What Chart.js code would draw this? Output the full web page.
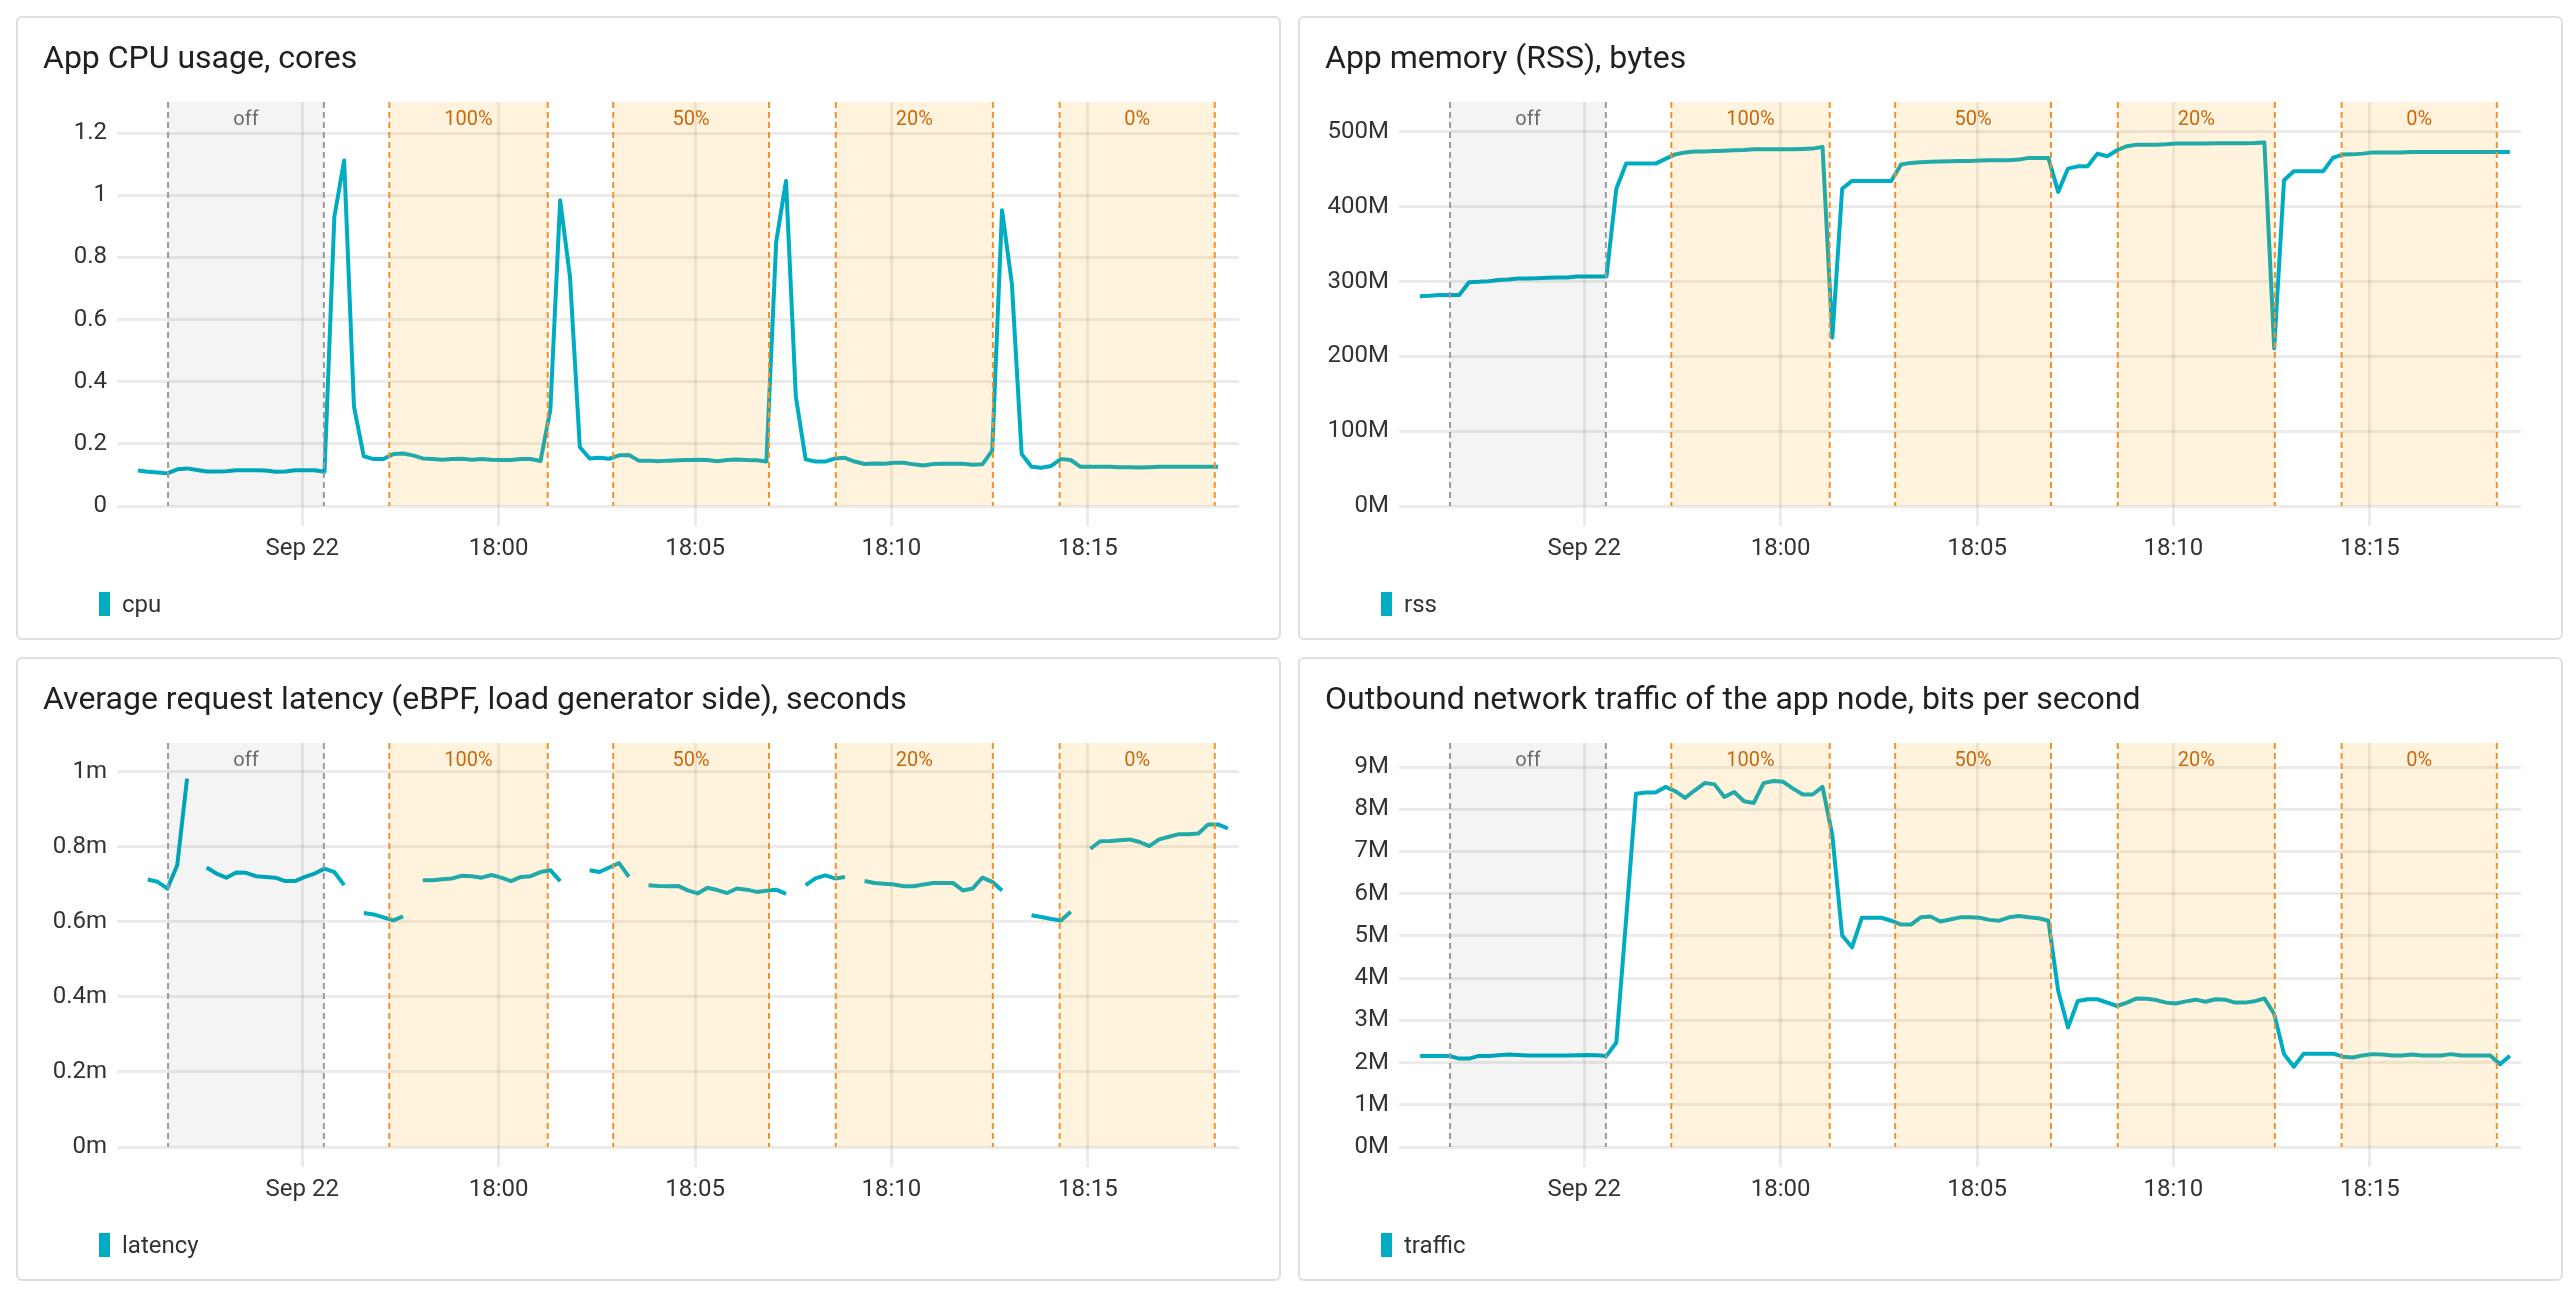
<!DOCTYPE html>
<html>
<head>
<meta charset="utf-8">
<script src="https://cdn.jsdelivr.net/npm/chart.js@4.4.1/dist/chart.umd.min.js"></script>
<style>
html,body{margin:0;padding:0;background:#fff;}
body{width:2576px;height:1296px;position:relative;overflow:hidden;font-family:Roboto,"Noto Sans",sans-serif;}
.panel{position:absolute;box-sizing:border-box;width:1265px;height:624px;border:2px solid #dedede;border-radius:6px;background:#fff;}
.title{position:absolute;left:25px;top:23px;font-size:32px;line-height:32px;color:#212121;white-space:nowrap;z-index:2;}
.legend{position:absolute;left:81px;top:574px;height:24px;display:flex;align-items:center;font-size:24px;line-height:24px;color:#333;z-index:2;}
.legend .sw{width:11px;height:24px;background:#00acc1;margin-right:12px;}
.cw{position:absolute;left:0;top:0;right:0;bottom:0;}
</style>
</head>
<body>
<div class="panel" style="left:16px;top:16px;"><div class="title">App CPU usage, cores</div><div class="cw"><canvas id="c1"></canvas></div><div class="legend"><span class="sw"></span>cpu</div></div>
<div class="panel" style="left:1298px;top:16px;"><div class="title">App memory (RSS), bytes</div><div class="cw"><canvas id="c2"></canvas></div><div class="legend"><span class="sw"></span>rss</div></div>
<div class="panel" style="left:16px;top:657px;"><div class="title">Average request latency (eBPF, load generator side), seconds</div><div class="cw"><canvas id="c3"></canvas></div><div class="legend"><span class="sw"></span>latency</div></div>
<div class="panel" style="left:1298px;top:657px;"><div class="title">Outbound network traffic of the app node, bits per second</div><div class="cw"><canvas id="c4"></canvas></div><div class="legend"><span class="sw"></span>traffic</div></div>
<script>
// ---- time axis (local clock, Sep 22) ----
const sampleStart = '17:50:49';
const sampleStepSeconds = 15;
const xRangeStart = '17:50:17';
const xRangeEnd = '18:18:51';
const xTickTimes = ['17:55', '18:00', '18:05', '18:10', '18:15'];
const xTickLabels = ['Sep 22', '18:00', '18:05', '18:10', '18:15'];

// ---- load phases ----
const bandLabels = ['off', '100%', '50%', '20%', '0%'];
const bandStarts = ['17:51:35', '17:57:13', '18:02:55', '18:08:35', '18:14:17'];
const bandEnds   = ['17:55:33', '18:01:15', '18:06:53', '18:12:35', '18:18:14'];

// ---- series ----
const cpuCores = [0.114,0.110,0.108,0.105,0.118,0.121,0.116,0.111,0.111,0.112,0.115,0.115,0.115,0.114,0.110,0.111,0.115,0.115,0.115,0.110,
  0.93,1.112,0.32,0.16,0.151,0.151,0.167,0.169,0.163,0.153,0.151,0.149,0.151,0.152,0.149,0.151,0.149,0.148,0.148,0.151,
  0.151,0.145,0.31,0.984,0.737,0.19,0.153,0.155,0.152,0.163,0.164,0.146,0.146,0.144,0.146,0.147,0.148,0.149,0.148,0.144,
  0.148,0.150,0.148,0.147,0.143,0.85,1.046,0.352,0.150,0.143,0.143,0.153,0.155,0.143,0.135,0.137,0.136,0.139,0.139,0.134,
  0.130,0.135,0.136,0.136,0.136,0.133,0.134,0.178,0.952,0.716,0.167,0.126,0.123,0.129,0.151,0.148,0.126,0.126,0.126,0.126,
  0.125,0.125,0.124,0.125,0.126,0.126,0.126,0.126,0.126,0.126,0.126];

const rssMB = [280.5,281,282,282,282,299,299.6,300.5,302,302.7,304,304,304.5,305,305.4,305.4,306.8,306.8,306.8,306.8,
  424,457.7,457.7,457.7,457.7,464,470,472.4,473.7,474,474.6,475,475.5,476,476.8,476.8,476.8,476.8,476.8,477.3,
  477.7,480,225,424,434.5,434.5,434.5,434.5,434.5,456.4,458.6,459.5,460,460.4,460.8,461.3,461.3,461.7,462,462,
  462,463,465.3,465.3,465.3,419.9,451,454,454,471,467.5,475.5,480.9,483,483,483,483.5,484.4,484.5,484.6,
  484.6,484.7,484.8,484.8,485,485.2,485.8,210.6,435.4,447.5,447.5,447.5,447.5,465.7,469.7,470,471,472.4,472.4,472.4,
  472.4,473.3,473.3,473.3,473.3,473.3,473.3,473.3,473.3,473.3,473.3,473.3];

const latencyMs = [null,0.713,0.707,0.689,0.751,0.982,null,0.745,0.729,0.718,0.732,0.731,0.722,0.720,0.718,0.709,0.709,0.720,0.729,0.742,
  0.733,0.698,null,0.624,0.620,0.612,0.604,0.615,null,0.711,0.711,0.714,0.716,0.723,0.722,0.718,0.725,0.718,0.709,0.720,
  0.722,0.733,0.738,0.709,null,null,0.738,0.733,0.745,0.757,0.720,null,0.698,0.696,0.695,0.696,0.684,0.676,0.691,0.685,
  0.677,0.689,0.686,0.680,0.683,0.686,0.675,null,0.698,0.716,0.724,0.716,0.720,null,0.709,0.704,0.702,0.700,0.695,0.695,
  0.700,0.704,0.704,0.704,0.684,0.689,0.718,0.707,0.684,null,null,0.618,0.613,0.608,0.604,0.627,null,0.795,0.815,0.816,
  0.818,0.820,0.813,0.802,0.820,0.827,0.834,0.834,0.836,0.860,0.860,0.849];

const trafficMbps = [2.158,2.158,2.158,2.158,2.095,2.095,2.158,2.158,2.174,2.19,2.18,2.166,2.166,2.166,2.166,2.166,2.174,2.18,2.174,2.158,
  2.475,5.4,8.37,8.40,8.40,8.53,8.43,8.27,8.45,8.62,8.59,8.29,8.41,8.19,8.15,8.62,8.67,8.65,8.49,8.35,
  8.35,8.53,7.38,5.01,4.73,5.43,5.43,5.43,5.36,5.27,5.27,5.44,5.46,5.34,5.39,5.44,5.44,5.43,5.38,5.36,
  5.44,5.47,5.44,5.42,5.36,3.7,2.83,3.46,3.50,3.50,3.42,3.34,3.42,3.52,3.51,3.48,3.42,3.40,3.45,3.49,
  3.44,3.50,3.49,3.42,3.42,3.45,3.52,3.15,2.20,1.90,2.21,2.21,2.21,2.21,2.14,2.12,2.17,2.20,2.19,2.17,
  2.17,2.19,2.17,2.17,2.17,2.20,2.17,2.17,2.17,2.17,1.96,2.16];

// ---- y axes ----
const cpuTicks = [0, 0.2, 0.4, 0.6, 0.8, 1, 1.2];
const cpuTickLabels = ['0', '0.2', '0.4', '0.6', '0.8', '1', '1.2'];
const rssTicks = [0, 100, 200, 300, 400, 500];
const rssTickLabels = ['0M', '100M', '200M', '300M', '400M', '500M'];
const latencyTicks = [0, 0.2, 0.4, 0.6, 0.8, 1];
const latencyTickLabels = ['0m', '0.2m', '0.4m', '0.6m', '0.8m', '1m'];
const trafficTicks = [0, 1, 2, 3, 4, 5, 6, 7, 8, 9];
const trafficTickLabels = ['0M', '1M', '2M', '3M', '4M', '5M', '6M', '7M', '8M', '9M'];
const axisMax = { cpu: 1.3, rss: 540, latency: 1.077, traffic: 9.57 };

// ---- helpers ----
function hms(s) {
  const p = s.split(':').map(Number);
  return p[0] * 3600 + p[1] * 60 + (p[2] || 0);
}
const t0 = hms(sampleStart);
const maxLen = Math.max(cpuCores.length, rssMB.length, latencyMs.length, trafficMbps.length);
const sampleTimes = Array.from({length: maxLen}, (_, i) => t0 + i * sampleStepSeconds);

const LINE = '#00acc1';
const GRID = 'rgba(0,0,0,0.08)';
Chart.defaults.font.family = 'Roboto';

const bandPlugin = {
  id: 'phaseBands',
  afterDatasetsDraw(chart) {
    const {ctx, chartArea: {top, bottom}, scales: {x}} = chart;
    ctx.save();
    bandLabels.forEach((lab, k) => {
      const x0 = x.getPixelForValue(hms(bandStarts[k]));
      const x1 = x.getPixelForValue(hms(bandEnds[k]));
      const isOff = lab === 'off';
      ctx.fillStyle = isOff ? 'rgba(0,0,0,0.045)' : 'rgba(255,160,0,0.13)';
      ctx.fillRect(x0, top, x1 - x0, bottom - top);
      ctx.setLineDash([6, 4]);
      ctx.lineWidth = 2;
      ctx.strokeStyle = isOff ? '#9a9a9a' : '#f0922b';
      [x0, x1].forEach(xx => {
        ctx.beginPath();
        ctx.moveTo(xx, top);
        ctx.lineTo(xx, bottom);
        ctx.stroke();
      });
      ctx.setLineDash([]);
      ctx.fillStyle = isOff ? '#6b6b6b' : '#c8690c';
      ctx.font = '20px Roboto';
      ctx.textAlign = 'center';
      ctx.textBaseline = 'alphabetic';
      ctx.fillText(lab, (x0 + x1) / 2, top + 22.5);
    });
    ctx.restore();
  }
};

function makeChart(id, label, values, yMax, yTicks, yTickLabels) {
  const xTickValues = xTickTimes.map(hms);
  return new Chart(document.getElementById(id), {
    type: 'line',
    data: {
      datasets: [{
        label: label,
        data: values.map((v, i) => ({x: sampleTimes[i], y: v})),
        borderColor: LINE,
        backgroundColor: LINE,
        borderWidth: 4,
        pointRadius: 0,
        tension: 0,
        spanGaps: false,
        borderJoinStyle: 'round'
      }]
    },
    options: {
      animation: false,
      responsive: true,
      maintainAspectRatio: false,
      layout: {padding: {left: 9, right: 40, top: 84, bottom: 72}},
      plugins: {legend: {display: false}, tooltip: {enabled: false}},
      scales: {
        x: {
          type: 'linear',
          min: hms(xRangeStart),
          max: hms(xRangeEnd),
          afterBuildTicks: s => { s.ticks = xTickValues.map(v => ({value: v})); },
          afterFit: s => { s.height = 60; },
          grid: {color: GRID, lineWidth: 3, drawTicks: true, tickLength: 20, tickColor: GRID, tickWidth: 3},
          border: {display: false},
          ticks: {
            padding: 9, color: '#333', font: {size: 24}, maxRotation: 0, autoSkip: false,
            callback: (v, idx) => xTickLabels[idx]
          }
        },
        y: {
          min: 0,
          max: yMax,
          afterBuildTicks: s => { s.ticks = yTicks.map(v => ({value: v})); },
          afterFit: s => { s.width = 90; },
          grid: {color: GRID, lineWidth: 3, drawTicks: false},
          border: {display: false},
          ticks: {
            padding: 10, color: '#333', font: {size: 24}, autoSkip: false,
            callback: (v, idx) => yTickLabels[idx]
          }
        }
      }
    },
    plugins: [bandPlugin]
  });
}

makeChart('c1', 'cpu', cpuCores, axisMax.cpu, cpuTicks, cpuTickLabels);
makeChart('c2', 'rss', rssMB, axisMax.rss, rssTicks, rssTickLabels);
makeChart('c3', 'latency', latencyMs, axisMax.latency, latencyTicks, latencyTickLabels);
makeChart('c4', 'traffic', trafficMbps, axisMax.traffic, trafficTicks, trafficTickLabels);
</script>
</body>
</html>
